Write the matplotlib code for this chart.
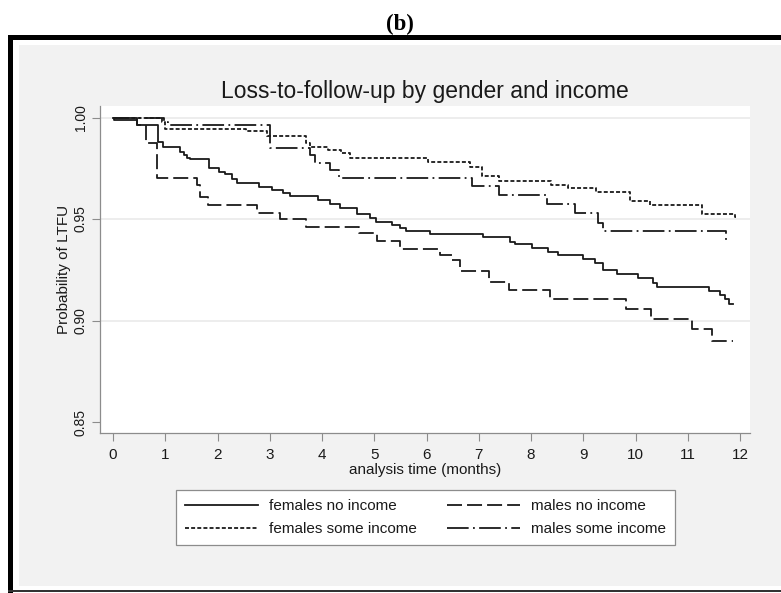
import matplotlib
matplotlib.use("Agg")
import matplotlib.pyplot as plt
from matplotlib.patches import Rectangle

plt.rcParams['font.family'] = ['Liberation Sans', 'DejaVu Sans']

# Kaplan-Meier step curves (months, probability)
fni_t = [0, 0.02, 0.45, 0.87, 0.95, 1.29, 1.35, 1.42, 1.47, 1.84, 2.03, 2.14, 2.27, 2.38, 2.80,
         3.04, 3.25, 3.38, 3.93, 4.15, 4.34, 4.66, 4.91, 5.04, 5.33, 5.49, 5.60, 6.06, 7.09, 7.59,
         7.70, 8.02, 8.33, 8.52, 9.00, 9.22, 9.37, 9.64, 10.05, 10.34, 10.41, 11.41, 11.62, 11.71, 11.78]
fni_s = [1.0, 0.9988, 0.9961, 0.9880, 0.9856, 0.9832, 0.9815, 0.9800, 0.9794, 0.9750, 0.9733, 0.9720,
         0.9697, 0.9676, 0.9660, 0.9643, 0.9630, 0.9612, 0.9594, 0.9574, 0.9553, 0.9523, 0.9503, 0.9487,
         0.9470, 0.9454, 0.9441, 0.9425, 0.9410, 0.9388, 0.9377, 0.9356, 0.9340, 0.9323, 0.9301, 0.9282,
         0.9249, 0.9229, 0.9208, 0.9183, 0.9167, 0.9147, 0.9126, 0.9104, 0.9081]
fni_end = 11.86

mni_t = [0, 0.45, 0.64, 0.85, 1.61, 1.66, 1.82, 2.75, 3.20, 3.70, 4.70, 5.05, 5.49, 6.25, 6.48,
         6.64, 7.20, 7.58, 8.37, 9.81, 10.29, 11.08, 11.46]
mni_s = [1.0, 0.9965, 0.9873, 0.9704, 0.9667, 0.9610, 0.9570, 0.9531, 0.9498, 0.9462, 0.9430, 0.9392,
         0.9352, 0.9325, 0.9300, 0.9242, 0.9191, 0.9150, 0.9106, 0.9055, 0.9006, 0.8957, 0.8900]
mni_end = 11.86

fsi_t = [0, 0.93, 1.00, 2.55, 2.95, 3.70, 3.77, 4.12, 4.37, 4.53, 6.03, 6.83, 7.06, 7.38, 8.39,
         8.71, 9.25, 9.89, 10.27, 11.28, 11.90]
fsi_s = [1.0, 0.9980, 0.9945, 0.9933, 0.9909, 0.9873, 0.9856, 0.9840, 0.9823, 0.9802, 0.9782, 0.9758,
         0.9712, 0.9687, 0.9667, 0.9651, 0.9631, 0.9590, 0.9569, 0.9526, 0.9510]
fsi_end = 11.92

msi_t = [0, 0.97, 1.05, 3.00, 3.77, 3.87, 4.15, 4.33, 6.87, 7.38, 8.30, 8.84, 9.29, 9.37, 11.73]
msi_s = [1.0, 0.9980, 0.9963, 0.9848, 0.9815, 0.9774, 0.9741, 0.9700, 0.9663, 0.9618, 0.9572, 0.9531,
         0.9479, 0.9441, 0.9388]
msi_end = 11.77

labels = ["females no income", "males no income", "females some income", "males some income"]
xticks = list(range(0, 13))
yticks = [0.85, 0.90, 0.95, 1.00]

W, H = 781, 593
fig = plt.figure(figsize=(W / 100, H / 100), dpi=100)
fig.patch.set_facecolor('white')


def box(x0, y0, x1, y1, color):
    # rectangle given in pixel coords from the top-left corner
    fig.patches.append(Rectangle((x0 / W, 1 - y1 / H), (x1 - x0) / W, (y1 - y0) / H,
                                 transform=fig.transFigure, facecolor=color,
                                 edgecolor='none', zorder=-5))


# outer frame and grey panel
box(19, 45, W, 586, '#f2f2f2')
box(8, 35, 13, H, 'black')
box(8, 35, W, 40, 'black')
box(8, 590, W, 592, '#333333')

fig.text(400 / W, 1 - 30 / H, "(b)", family='Liberation Serif', weight='bold',
         fontsize=16.5, ha='center', va='baseline')

ax = fig.add_axes([100 / W, 1 - 433 / H, 650 / W, 327 / H])
ax.set_zorder(2)
ax.set_facecolor('white')

ink = '#1a1a1a'
lw = 1.3
series = [
    (fni_t, fni_s, fni_end, dict(linestyle='-')),
    (mni_t, mni_s, mni_end, dict(dashes=(8.3, 2.8))),
    (fsi_t, fsi_s, fsi_end, dict(dashes=(2.2, 1.2))),
    (msi_t, msi_s, msi_end, dict(dashes=(12, 2.4, 1.0, 2.4))),
]
handles = []
for (t, s, end, style), lab in zip(series, labels):
    h, = ax.step(t + [end], s + [s[-1]], where='post', color=ink, lw=lw, label=lab, **style)
    handles.append(h)

ax.set_xlim(-0.249, 12.19)
ax.set_ylim(0.8446, 1.0057)
ax.set_xticks(xticks)
ax.set_xticklabels([str(v) for v in xticks])
ax.set_yticks(yticks)
ax.set_yticklabels(["%.2f" % v for v in yticks], rotation=90, va='center')

for v in [0.90, 0.95, 1.00]:
    ax.axhline(v, color='#e8e8e8', lw=1.1, zorder=0)

for side in ['top', 'right']:
    ax.spines[side].set_visible(False)
for side in ['left', 'bottom']:
    ax.spines[side].set_color('#8c8c8c')
    ax.spines[side].set_linewidth(0.9)

ax.tick_params(axis='both', colors='#8c8c8c', length=5.5, width=0.8, labelcolor=ink)
ax.tick_params(axis='x', labelsize=11, pad=5)
ax.tick_params(axis='y', labelsize=10, pad=3.5)

ax.set_xlabel("analysis time (months)", fontsize=11, color=ink, labelpad=1)
ax.set_ylabel("Probability of LTFU", fontsize=11, color=ink, labelpad=2)

fig.text(425 / W, 1 - 98 / H, "Loss-to-follow-up by gender and income", fontsize=16.5,
         color=ink, ha='center', va='baseline')

# legend fills column by column: females in the first column, males in the second
order = [0, 2, 1, 3]
leg = fig.legend(handles=[handles[i] for i in order], labels=[labels[i] for i in order],
                 ncol=2, loc='center', bbox_to_anchor=(425.5 / W, 1 - 517.5 / H), fontsize=11,
                 handlelength=4.8, handletextpad=0.72, columnspacing=1.96,
                 borderpad=0.6, labelspacing=0.6, fancybox=False, framealpha=1,
                 edgecolor='#8c8c8c', facecolor='white')
leg.get_frame().set_linewidth(0.9)
for txt in leg.get_texts():
    txt.set_color(ink)

fig.savefig("out.png", dpi=100)
